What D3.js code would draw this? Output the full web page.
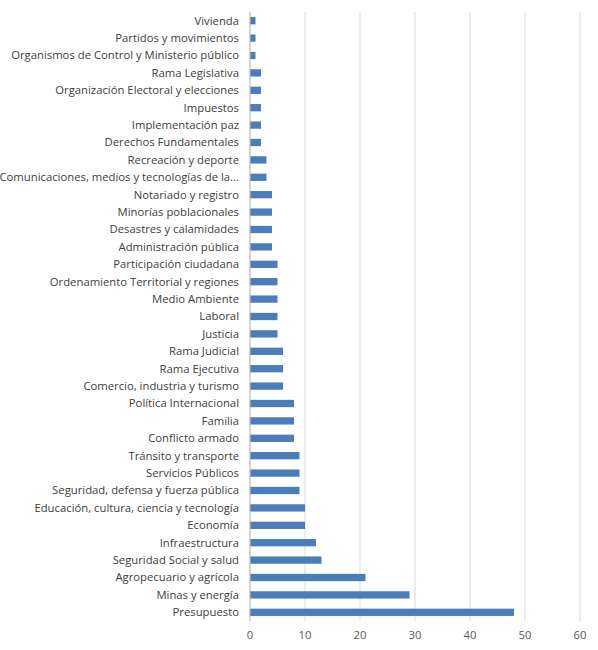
<!DOCTYPE html>
<html><head><meta charset="utf-8">
<script src="https://cdn.jsdelivr.net/npm/d3@7"></script>
<style>body{margin:0;background:#fff}svg{font-family:"Open Sans",Lato,sans-serif}</style>
</head><body><svg id="c" width="598" height="650"></svg>
<script>
const categories = ["Vivienda","Partidos y movimientos","Organismos de Control y Ministerio público","Rama Legislativa","Organización Electoral y elecciones","Impuestos","Implementación paz","Derechos Fundamentales","Recreación y deporte","Comunicaciones, medios y tecnologías de la...","Notariado y registro","Minorías poblacionales","Desastres y calamidades","Administración pública","Participación ciudadana","Ordenamiento Territorial y regiones","Medio Ambiente","Laboral","Justicia","Rama Judicial","Rama Ejecutiva","Comercio, industria y turismo","Política Internacional","Familia","Conflicto armado","Tránsito y transporte","Servicios Públicos","Seguridad, defensa y fuerza pública","Educación, cultura, ciencia y tecnología","Economía","Infraestructura","Seguridad Social y salud","Agropecuario y agrícola","Minas y energía","Presupuesto"];
const values = [1,1,1,2,2,2,2,2,3,3,4,4,4,4,5,5,5,5,5,6,6,6,8,8,8,9,9,9,10,10,12,13,21,29,48];
const ticks = [0,10,20,30,40,50,60];
const svg = d3.select("#c");
const x = d3.scaleLinear().domain([0,60]).range([250,580]);
const y = d3.scaleBand().domain(categories).range([12,621]).paddingInner(0.58).paddingOuter(0.29);
svg.append("g").selectAll("line").data(ticks).join("line")
  .attr("x1",d=>x(d)).attr("x2",d=>x(d)).attr("y1",12).attr("y2",621)
  .attr("stroke","#d9d9d9").attr("stroke-width",1);
svg.append("g").selectAll("rect").data(values).join("rect")
  .attr("x",x(0)).attr("y",(d,i)=>y(categories[i])).attr("width",d=>x(d)-x(0)).attr("height",y.bandwidth())
  .attr("fill","#4a7ebb");
svg.append("line").attr("x1",x(0)).attr("x2",x(0)).attr("y1",12).attr("y2",621).attr("stroke","#bfbfbf");
svg.append("g").selectAll("text").data(categories).join("text")
  .attr("x",239).attr("y",d=>y(d)+y.bandwidth()/2).attr("dy","0.35em").attr("text-anchor","end")
  .attr("font-size",11.3).attr("fill","#404040").text(d=>d);
svg.append("g").selectAll("text").data(ticks).join("text")
  .attr("x",d=>x(d)).attr("y",639).attr("text-anchor","middle").attr("font-size",11.3).attr("fill","#595959").text(d=>d);
</script></body></html>
